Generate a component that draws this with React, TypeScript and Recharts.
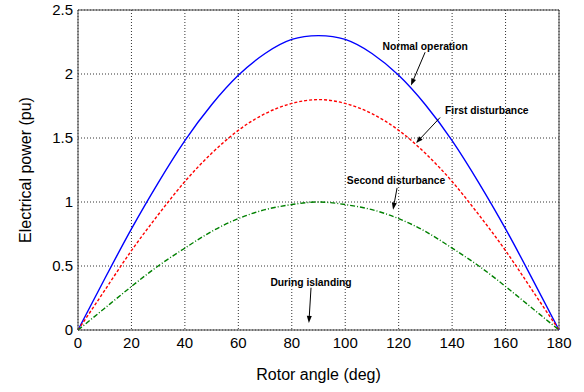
import React from "react";
import { LineChart, Line, XAxis, YAxis, CartesianGrid, ReferenceLine, Label } from "recharts";

const angles = [0, 10, 20, 30, 40, 50, 60, 70, 80, 90, 100, 110, 120, 130, 140, 150, 160, 170, 180];
const normalOperation = [0, 0.40, 0.79, 1.15, 1.48, 1.76, 1.99, 2.16, 2.27, 2.30, 2.27, 2.16, 1.99, 1.76, 1.48, 1.15, 0.79, 0.40, 0];
const firstDisturbance = [0, 0.31, 0.62, 0.90, 1.16, 1.38, 1.56, 1.69, 1.77, 1.80, 1.77, 1.69, 1.56, 1.38, 1.16, 0.90, 0.62, 0.31, 0];
const secondDisturbance = [0, 0.17, 0.34, 0.50, 0.64, 0.77, 0.87, 0.94, 0.98, 1.00, 0.98, 0.94, 0.87, 0.77, 0.64, 0.50, 0.34, 0.17, 0];
const xTicks = [0, 20, 40, 60, 80, 100, 120, 140, 160, 180];
const yTicks = [0, 0.5, 1, 1.5, 2, 2.5];

const annotationLabels = ["Normal operation", "First disturbance", "Second disturbance", "During islanding"];
// arrow from (x1,y1) to (x2,y2) in data units
const annotationArrows = [
  [129.9, 2.17, 124.6, 1.91],
  [135.5, 1.66, 126.5, 1.46],
  [119.4, 1.11, 117.9, 0.94],
  [87.2, 0.33, 86.4, 0.055],
];
const annotationTextPos = [
  [129.9, 2.21],
  [153.0, 1.71],
  [119.0, 1.165],
  [87.2, 0.368],
];

const data = angles.map((a, i) => ({
  angle: a,
  normal: normalOperation[i],
  first: firstDisturbance[i],
  second: secondDisturbance[i],
}));

const FONT = "Liberation Sans, Arial, sans-serif";

const makeArrowShape = (label: string, tx: number, ty: number) => (props: any) => {
  const { x1, y1, x2, y2 } = props;
  if ([x1, y1, x2, y2].some((v) => typeof v !== "number" || isNaN(v))) return <g />;
  const dx = x2 - x1;
  const dy = y2 - y1;
  const len = Math.sqrt(dx * dx + dy * dy) || 1;
  const ux = dx / len;
  const uy = dy / len;
  const hl = 7;
  const hw = 2.5;
  const bx = x2 - ux * hl;
  const by = y2 - uy * hl;
  const p1 = `${bx - uy * hw},${by + ux * hw}`;
  const p2 = `${bx + uy * hw},${by - ux * hw}`;
  const lx = x1 + tx;
  const ly = y1 + ty;
  return (
    <g>
      <line x1={x1} y1={y1} x2={bx} y2={by} stroke="#000" strokeWidth={1} />
      <polygon points={`${x2},${y2} ${p1} ${p2}`} fill="#000" />
      <text x={lx} y={ly} textAnchor="middle" dominantBaseline="middle" fontFamily={FONT} fontWeight="bold" fontSize={10.3} fill="#000">
        {label}
      </text>
    </g>
  );
};

const PX_PER_X = 481 / 180;
const PX_PER_Y = 320 / 2.5;

export default function App() {
  return (
    <div style={{ position: "absolute", left: 0, top: 0 }}>
      <LineChart width={584} height={392} data={data} margin={{ top: 10, right: 25, left: 0, bottom: 0 }}>
        <CartesianGrid stroke="#333" strokeDasharray="1 2" strokeWidth={1} />
        <XAxis
          dataKey="angle"
          type="number"
          domain={[0, 180]}
          ticks={xTicks}
          height={62}
          tickSize={0}
          tickMargin={7}
          stroke="#444"
          tick={{ fill: "#000", fontSize: 15, fontFamily: FONT }}
          interval={0}
        >
          <Label value="Rotor angle (deg)" position="insideBottom" offset={12} style={{ fill: "#000", fontSize: 16, fontFamily: FONT }} />
        </XAxis>
        <YAxis
          type="number"
          domain={[0, 2.5]}
          ticks={yTicks}
          width={78}
          tickSize={0}
          tickMargin={5}
          stroke="#444"
          tick={{ fill: "#000", fontSize: 15, fontFamily: FONT }}
          interval={0}
        >
          <Label value="Electrical power (pu)" angle={-90} position="insideLeft" offset={25} style={{ fill: "#000", fontSize: 16, fontFamily: FONT, textAnchor: "middle" }} />
        </YAxis>
        <ReferenceLine y={2.5} stroke="#444" strokeWidth={1} />
        <ReferenceLine x={180} stroke="#444" strokeWidth={1} />
        <Line type="natural" dataKey="normal" stroke="#0000ff" strokeWidth={1.4} dot={false} isAnimationActive={false} />
        <Line type="natural" dataKey="first" stroke="#ff0000" strokeWidth={1.4} strokeDasharray="3 2" dot={false} isAnimationActive={false} />
        <Line type="natural" dataKey="second" stroke="#008000" strokeWidth={1.4} strokeDasharray="5 2 1 2" dot={false} isAnimationActive={false} />
        {annotationArrows.map((a, i) => (
          <ReferenceLine
            key={i}
            segment={[{ x: a[0], y: a[1] }, { x: a[2], y: a[3] }]}
            ifOverflow="visible"
            shape={makeArrowShape(
              annotationLabels[i],
              (annotationTextPos[i][0] - a[0]) * PX_PER_X,
              -(annotationTextPos[i][1] - a[1]) * PX_PER_Y
            )}
          />
        ))}
      </LineChart>
    </div>
  );
}
